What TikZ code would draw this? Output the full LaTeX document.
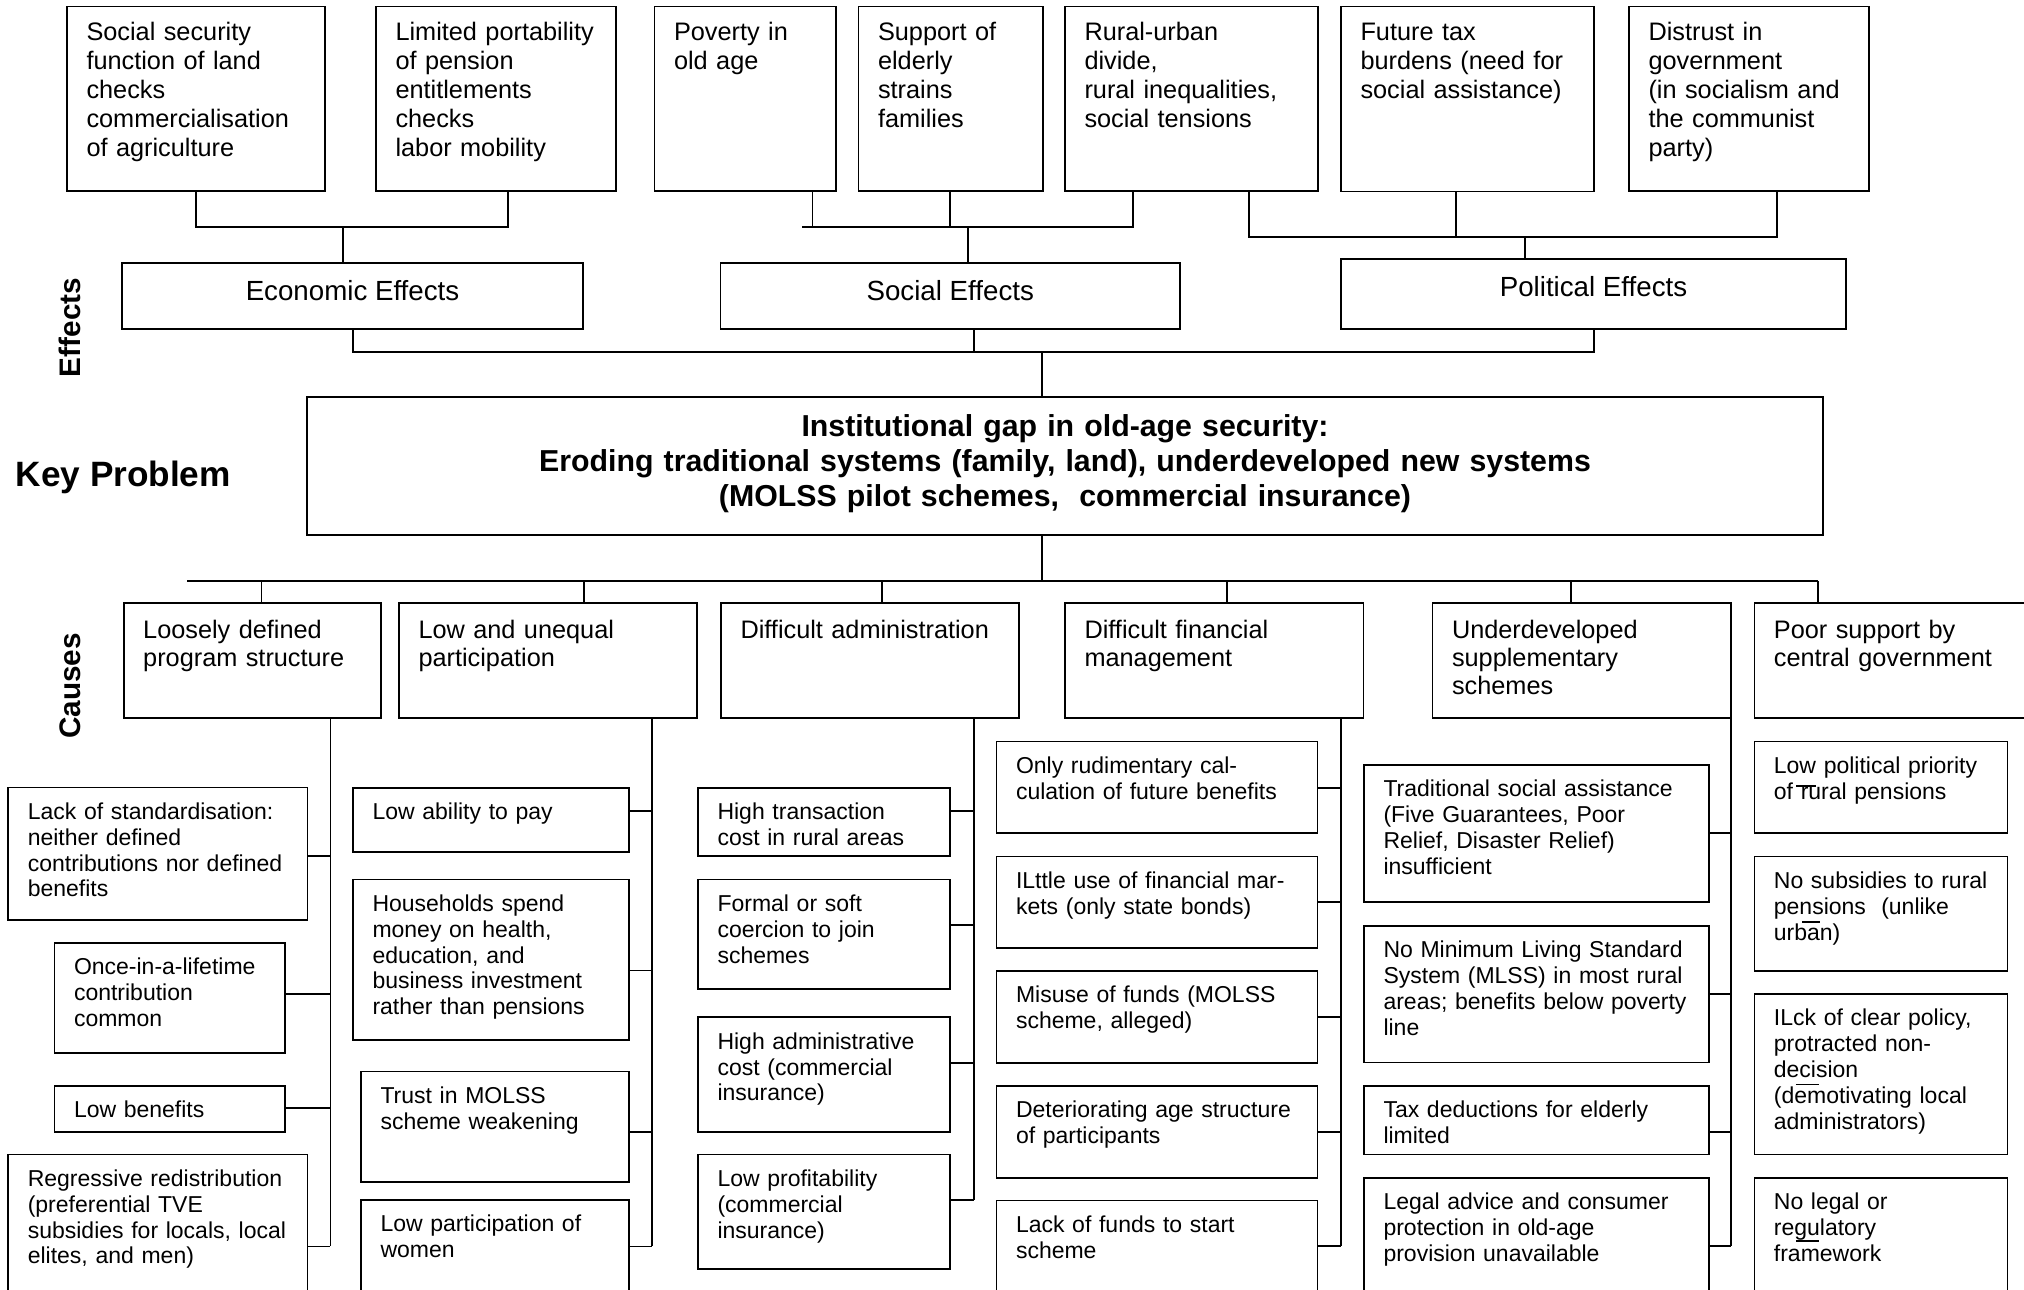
\documentclass[tikz,border=0pt]{standalone}
\usepackage{fontspec}
\setmainfont{Liberation Sans}
\usetikzlibrary{calc}

% framed cell: box node plus a top-left text node
% #1 font style, #2 name, #3..#6 corners (x1,y1,x2,y2), #7 first-baseline drop, #8 text
\newcommand\boxcell[8]{%
  \pgfmathsetmacro\cellw{#5-#3}\pgfmathsetmacro\cellh{#6-#4}%
  \node[frame, minimum width=\cellw pt, minimum height=\cellh pt] (#2) at ({(#3+#5)/2},{(#4+#6)/2}) {};%
  \node[lbl, #1, xshift=19.5pt, yshift=-#7pt] (#2-t) at (#2.north west) {#8};}

% framed cell with one centred line of text
\newcommand\midcell[7]{%
  \pgfmathsetmacro\cellw{#4-#2}\pgfmathsetmacro\cellh{#5-#3}%
  \node[frame, minimum width=\cellw pt, minimum height=\cellh pt] (#1) at ({(#2+#4)/2},{(#3+#5)/2}) {};%
  \node[inner sep=0pt, anchor=base, efff, yshift=-#6pt] (#1-t) at (#1.north) {#7};}

% side connector from a cell's right edge to a column trunk
\newcommand\tie[3]{%
  \coordinate (#1-j) at (#2,#3);%
  \draw[conn] (#1.east |- #1-j) -- (#1-j);}

\begin{document}
\begin{tikzpicture}[x=1pt,y=-1pt,
  frame/.style={draw, line width=1.8pt, inner sep=0pt, outer sep=0pt},
  conn/.style={line width=1.8pt},
  lbl/.style={inner sep=0pt, outer sep=0pt, anchor=base west, align=left, text width=600pt},
  topf/.style={font=\fontsize{25.3}{28.8}\selectfont},
  causef/.style={font=\fontsize{25.3}{28.4}\selectfont},
  subf/.style={font=\fontsize{23}{25.8}\selectfont},
  efff/.style={font=\fontsize{27.7}{32}\selectfont},
  titlef/.style={font=\bfseries\fontsize{30.3}{35}\selectfont},
  keyf/.style={font=\bfseries\fontsize{35.2}{40}\selectfont},
  sidef/.style={font=\bfseries\fontsize{29.7}{34}\selectfont},
  stroke/.style={line width=1.2pt}]

\useasboundingbox (0,0) rectangle (2024,1290);
\clip (0,0) rectangle (2024,1290);
\fill[white] (0,0) rectangle (2024,1290);

% ---------------- effects ----------------
\boxcell{topf}{T1}{67}{6.5}{325}{191}{34.5}{Social security\\function of land\\checks\\commercialisation\\of agriculture}
\boxcell{topf}{T2}{376}{6.5}{616}{191}{34.5}{Limited portability\\of pension\\entitlements\\checks\\labor mobility}
\boxcell{topf}{T3}{654.5}{6.5}{836}{191}{34.5}{Poverty in\\old age}
\boxcell{topf}{T4}{858.5}{6.5}{1043}{191}{34.5}{Support of\\elderly\\strains\\families}
\boxcell{topf}{T5}{1065}{6.5}{1318}{191}{34.5}{Rural-urban\\divide,\\rural inequalities,\\social tensions}
\boxcell{topf}{T6}{1341}{6.5}{1594}{191.5}{34.5}{Future tax\\burdens (need for\\social assistance)}
\boxcell{topf}{T7}{1629}{6.5}{1869}{191}{34.5}{Distrust in\\government\\(in socialism and\\the communist\\party)}

\midcell{E1}{122}{263}{583}{329}{37.5}{Economic Effects}
\midcell{E2}{720.5}{263}{1180}{329}{37.5}{Social Effects}
\midcell{E3}{1341}{259}{1846}{329}{37.5}{Political Effects}

\node[sidef, rotate=90, anchor=base, inner sep=0pt] (lblE) at (80,327.5) {Effects};

% economic group
\coordinate (e1) at (196,227);
\coordinate (e2) at (508,227);
\coordinate (e0) at (343,227);
\draw[conn] (T1.south -| e1) -- (e1) -- (e2) -- (T2.south -| e2);
\draw[conn] (e0) -- (E1.north -| e0);

% social group
\coordinate (s0) at (802,227);
\coordinate (s1) at (812.5,227);
\coordinate (s2) at (950,227);
\coordinate (s3) at (1132.6,227);
\coordinate (sm) at (968,227);
\draw[conn] (s0) -- (s3) -- (T5.south -| s3);
\draw[conn] (T3.south -| s1) -- (s1);
\draw[conn] (T4.south -| s2) -- (s2);
\draw[conn] (sm) -- (E2.north -| sm);

% political group
\coordinate (p1) at (1249,237);
\coordinate (p2) at (1456,237);
\coordinate (p3) at (1777,237);
\coordinate (pm) at (1525,237);
\draw[conn] (T5.south -| p1) -- (p1) -- (p3) -- (T7.south -| p3);
\draw[conn] (T6.south -| p2) -- (p2);
\draw[conn] (pm) -- (E3.north -| pm);

% ---------------- key problem ----------------
\node[frame, minimum width=1516pt, minimum height=138pt] (K) at (1065,466) {};
\node[titlef, inner sep=0pt, anchor=base, align=center, text width=1500pt] (K-t) at (1065,436)
  {Institutional gap in old-age security:\\Eroding traditional systems (family, land), underdeveloped new systems\\(MOLSS pilot schemes, \ commercial insurance)};
\node[keyf, inner sep=0pt, anchor=base west] (lblK) at (15.5,486.7) {Key Problem};

\coordinate (b1) at (353,352);
\coordinate (b2) at (974,352);
\coordinate (b3) at (1594,352);
\coordinate (bc) at (1042,352);
\draw[conn] (E1.south -| b1) -- (b1) -- (b3) -- (E3.south -| b3);
\draw[conn] (E2.south -| b2) -- (b2);
\draw[conn] (bc) -- (K.north -| bc);

% ---------------- causes ----------------
\node[sidef, rotate=90, anchor=base, inner sep=0pt] (lblC) at (80,686) {Causes};

\boxcell{causef}{C1}{123.7}{603}{380.7}{718}{35}{Loosely defined\\program structure}
\boxcell{causef}{C2}{399}{603}{697}{718}{35}{Low and unequal\\participation}
\boxcell{causef}{C3}{721}{603}{1019}{718}{35}{Difficult administration}
\boxcell{causef}{C4}{1065}{603}{1363.5}{718}{35}{Difficult financial\\management}
\boxcell{causef}{C5}{1432.5}{603}{1731.3}{718}{35}{Underdeveloped\\supplementary\\schemes}
\boxcell{causef}{C6}{1754.4}{603}{2060}{718}{35}{Poor support by\\central government}

\coordinate (cb) at (1042,581);
\coordinate (cL) at (187,581);
\coordinate (cR) at (1817.6,581);
\draw[conn] (K.south -| cb) -- (cb);
\draw[conn] (cL) -- (cR);
\foreach \n/\x in {C1/261.5, C2/583.6, C3/881.8, C4/1226.6, C5/1570.8, C6/1817.6}{
  \coordinate (d-\n) at (\x,581);
  \draw[conn] (d-\n) -- (\n.north -| d-\n);
}

% column 1
\boxcell{subf}{S1a}{8.3}{787.5}{307.5}{920}{32}{Lack of standardisation:\\neither defined\\contributions nor defined\\benefits}
\boxcell{subf}{S1b}{54.5}{942.7}{284.8}{1053}{32}{Once-in-a-lifetime\\contribution\\common}
\boxcell{subf}{S1c}{54.5}{1085.7}{284.8}{1131.6}{32}{Low benefits}
\boxcell{subf}{S1d}{8.3}{1154.5}{307.5}{1310}{32}{Regressive redistribution\\(preferential TVE\\subsidies for locals, local\\elites, and men)}
\coordinate (v1) at (330.4,1246.4);
\draw[conn] (C1.south -| v1) -- (v1);
\tie{S1a}{330.4}{856}
\tie{S1b}{330.4}{994}
\tie{S1c}{330.4}{1108.3}
\tie{S1d}{330.4}{1246.4}

% column 2
\boxcell{subf}{S2a}{353}{787.7}{629}{852}{32}{Low ability to pay}
\boxcell{subf}{S2b}{353}{879.5}{629}{1040}{32}{Households spend\\money on health,\\education, and\\business investment\\rather than pensions}
\boxcell{subf}{S2c}{361}{1071.4}{629}{1181.6}{32}{Trust in MOLSS\\scheme weakening}
\boxcell{subf}{S2d}{361}{1199.7}{629}{1310}{32}{Low participation of\\women}
\coordinate (v2) at (652,1246.4);
\draw[conn] (C2.south -| v2) -- (v2);
\tie{S2a}{652}{811}
\tie{S2b}{652}{970.5}
\tie{S2c}{652}{1131.6}
\tie{S2d}{652}{1246.4}

% column 3
\boxcell{subf}{S3a}{698}{787.7}{950}{856.2}{32}{High transaction\\cost in rural areas}
\boxcell{subf}{S3b}{698}{879.5}{950}{989}{32}{Formal or soft\\coercion to join\\schemes}
\boxcell{subf}{S3c}{698}{1017.2}{950}{1131.6}{32}{High administrative\\cost (commercial\\insurance)}
\boxcell{subf}{S3d}{698}{1154.5}{950}{1269}{32}{Low profitability\\(commercial\\insurance)}
\coordinate (v3) at (973.8,1199.7);
\draw[conn] (C3.south -| v3) -- (v3);
\tie{S3a}{973.8}{811}
\tie{S3b}{973.8}{925}
\tie{S3c}{973.8}{1063}
\tie{S3d}{973.8}{1199.7}

% column 4
\boxcell{subf}{S4a}{996.5}{741.4}{1317.5}{833.2}{32}{Only rudimentary cal-\\culation of future benefits}
\boxcell{subf}{S4b}{996.5}{856.5}{1317.5}{948.3}{32}{ILttle use of financial mar-\\kets (only state bonds)}
\boxcell{subf}{S4c}{996.5}{970.9}{1317.5}{1062.7}{32}{Misuse of funds (MOLSS\\scheme, alleged)}
\boxcell{subf}{S4d}{996.5}{1085.7}{1317.5}{1177.9}{32}{Deteriorating age structure\\of participants}
\boxcell{subf}{S4e}{996.5}{1200.4}{1317.5}{1310}{32}{Lack of funds to start\\scheme}
\coordinate (v4) at (1341,1245.6);
\draw[conn] (C4.south -| v4) -- (v4);
\tie{S4a}{1341}{787.7}
\tie{S4b}{1341}{902}
\tie{S4c}{1341}{1017.2}
\tie{S4d}{1341}{1131.6}
\tie{S4e}{1341}{1245.6}

% column 5
\boxcell{subf}{S5a}{1364}{764.7}{1708.6}{902}{32}{Traditional social assistance\\(Five Guarantees, Poor\\Relief, Disaster Relief)\\insufficient}
\boxcell{subf}{S5b}{1364}{925.8}{1708.6}{1062.4}{32}{No Minimum Living Standard\\System (MLSS) in most rural\\areas; benefits below poverty\\line}
\boxcell{subf}{S5c}{1364}{1085.7}{1708.6}{1154.5}{32}{Tax deductions for elderly\\limited}
\boxcell{subf}{S5d}{1364}{1177.9}{1708.6}{1310}{32}{Legal advice and consumer\\protection in old-age\\provision unavailable}
\coordinate (v5) at (1731.3,1245.6);
\draw[conn] (C5.south -| v5) -- (v5);
\tie{S5a}{1731.3}{833.2}
\tie{S5b}{1731.3}{994}
\tie{S5c}{1731.3}{1131.6}
\tie{S5d}{1731.3}{1245.6}

% column 6
\boxcell{subf}{S6a}{1754.4}{741.4}{2007.4}{833.2}{32}{Low political priority\\of rural pensions}
\boxcell{subf}{S6b}{1754.4}{856.5}{2007.4}{970.9}{32}{No subsidies to rural\\pensions \ (unlike\\urban)}
\boxcell{subf}{S6c}{1754.4}{993.9}{2007.4}{1154.5}{32}{ILck of clear policy,\\protracted non-\\decision\\(demotivating local\\administrators)}
\boxcell{subf}{S6d}{1754.4}{1177.9}{2007.4}{1310}{32}{No legal or\\regulatory\\framework}

% stray strokes over some letters
\draw[stroke] (1796,786) -- (1815.5,786);
\draw[stroke] (1802.4,922) -- (1819.8,922);
\draw[stroke] (1795.8,1084.6) -- (1818.5,1084.6);
\draw[stroke] (1796,1241) -- (1818.5,1241);
\end{tikzpicture}
\end{document}
